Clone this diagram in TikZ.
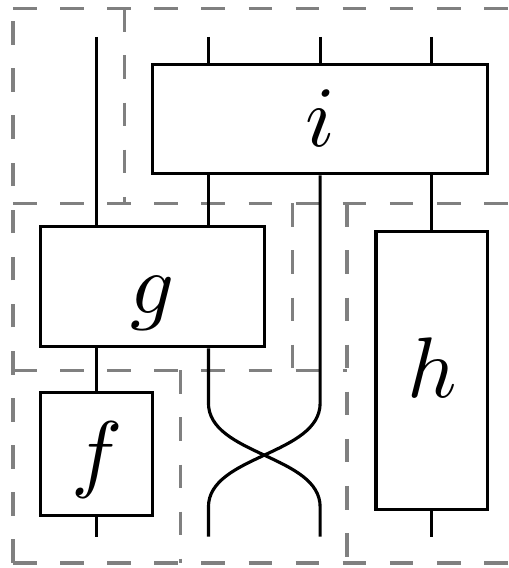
\documentclass[tikz,border=0pt]{standalone}
\begin{document}
\begin{tikzpicture}[x=0.5cm, y=0.5cm,
  morph/.style={draw, inner sep=0pt, font=\fontsize{10.95}{13.6}\selectfont,
    text height=7pt, text depth=0pt},
  region/.style={draw=gray, dashed}]
  \clip (-0.866,0) rectangle (3.682,5.085);
  % dashed regions: horizontal edges, left to right
  \draw[region] (-0.75,5.01) -- (3.8,5.01);
  \draw[region] (-0.75,3.265) -- (3.8,3.265);
  \draw[region] (-0.75,1.77) -- (2.24,1.77);
  \draw[region] (-0.75,0.045) -- (3.8,0.045);
  % vertical edges
  \draw[region] (-0.75,0.045) -- (-0.75,5.01);
  \draw[region] (0.25,5.01) -- (0.25,3.265);
  \draw[region] (1.75,3.265) -- (1.75,1.77);
  \draw[region] (2.24,3.265) -- (2.24,0.045);
  \draw[region] (0.75,1.77) -- (0.75,0.045);
  % the boxes
  \node[morph, minimum width=1.5cm, minimum height=0.49cm] (i) at (2,4.02) {$i$};
  \node[morph, minimum width=1cm, minimum height=0.54cm] (g) at (0.5,2.52) {$g$};
  \node[morph, minimum width=0.5cm, minimum height=0.55cm] (f) at (0,1.023) {$f$};
  \node[morph, minimum width=0.5cm, minimum height=1.243cm] (h) at (3,1.768) {$h$};
  % wire ends
  \coordinate (top1) at (0,4.754);
  \coordinate (top2) at (1,4.754);
  \coordinate (top3) at (2,4.754);
  \coordinate (top4) at (3,4.754);
  \coordinate (bot1) at (0,0.28);
  \coordinate (bot2) at (1,0.28);
  \coordinate (bot3) at (2,0.28);
  \coordinate (bot4) at (3,0.28);
  % where the crossing starts and ends
  \coordinate (cr1) at (1,1.477);
  \coordinate (cr2) at (2,1.477);
  \coordinate (cr3) at (1,0.546);
  \coordinate (cr4) at (2,0.546);
  % wire 1
  \draw (top1) -- (top1 |- g.north);
  \draw (top1 |- g.south) -- (top1 |- f.north);
  \draw (top1 |- f.south) -- (bot1);
  % wire 2, crossing over to the right
  \draw (top2) -- (top2 |- i.north);
  \draw (top2 |- i.south) -- (top2 |- g.north);
  \draw (top2 |- g.south) -- (cr1) .. controls (1,1.01) and (2,1.01) .. (cr4) -- (bot3);
  % wire 3, crossing over to the left
  \draw (top3) -- (top3 |- i.north);
  \draw (top3 |- i.south) -- (cr2) .. controls (2,1.01) and (1,1.01) .. (cr3) -- (bot2);
  % wire 4
  \draw (top4) -- (top4 |- i.north);
  \draw (top4 |- i.south) -- (top4 |- h.north);
  \draw (top4 |- h.south) -- (bot4);
\end{tikzpicture}
\end{document}
